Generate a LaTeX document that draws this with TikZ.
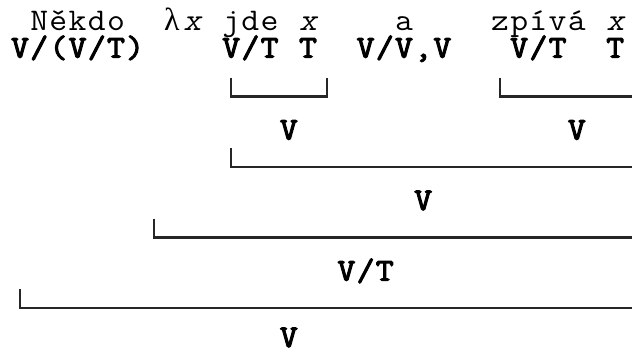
\documentclass[tikz,border=0pt]{standalone}
\usepackage{fontspec}
\newfontfamily\lamfont{Liberation Serif}
% a wide typewriter face in three weights/shapes
\newfontfamily\courrm[FakeStretch=1.1]{Latin Modern Mono}
\newfontfamily\courbf[FakeStretch=1.1,FakeBold=3.4]{Latin Modern Mono}
\newfontfamily\courit[FakeStretch=1.1,FakeSlant=0.22]{Latin Modern Mono}
% set a word on a fixed 19.2pt character grid
\newcommand\cells[1]{\cellsloop#1\relax}
\def\cellsloop#1{\ifx\relax#1\else\makebox[19.2pt]{#1}\expandafter\cellsloop\fi}
\tikzset{
  word/.style={anchor=base, inner sep=0pt, font=\fontsize{31.5}{36}\selectfont\courrm},
  cat/.style={word, font=\fontsize{31.5}{36}\selectfont\courbf},
  var/.style={word, font=\fontsize{31.5}{36}\selectfont\courit},
  lam/.style={word, font=\fontsize{32}{36}\selectfont\lamfont},
  bracket/.style={draw=black!85, line width=2.1pt, line join=miter}
}
\begin{document}
\begin{tikzpicture}[x=1pt, y=-1pt]
  \useasboundingbox (0,0) rectangle (632,354);
  % monospace grid: column k is centred at 20 + 19.2k
  % words
  \node[word] (nekdo) at (77.6,30) {\cells{Někdo}};
  \node[lam]  (lambda) at (172,30) {λ};
  \node[var]  (x1) at (192.3,30) {x};
  \node[word] (jde) at (250.4,30) {\cells{jde}};
  \node[var]  (x2) at (308,30) {x};
  \node[word] (a) at (404,30) {a};
  \node[word] (zpiva) at (538.4,30) {\cells{zpívá}};
  \node[var]  (x3) at (615.2,30) {x};
  % categories
  \node[cat] (c1) at (77.6,57.5) {\cells{V/(V/T)}};
  \node[cat] (c2) at (250.4,57.5) {\cells{V/T}};
  \node[cat] (c3) at (308,57.5) {T};
  \node[cat] (c4) at (404,57.5) {\cells{V/V,V}};
  \node[cat] (c5) at (538.4,57.5) {\cells{V/T}};
  \node[cat] (c6) at (615.2,57.5) {T};
  % first level
  \coordinate (b1l) at (231.2,77.5);
  \coordinate (b1r) at (327.2,77.5);
  \draw[bracket] (b1l) |- (b1r |- 0,96.5) -- (b1r);
  \coordinate (b1bl) at (500,77.5);
  \coordinate (b1be) at (634,96.5);
  \draw[bracket] (b1bl) |- (b1be);
  \node[cat] (r1) at (288.8,139.5) {V};
  \node[cat] (r2) at (576.8,139.5) {V};
  % second level
  \coordinate (b2l) at (231.2,148);
  \coordinate (b2e) at (634,167);
  \draw[bracket] (b2l) |- (b2e);
  \node[cat] (r3) at (423.2,210) {V};
  % lambda abstraction
  \coordinate (b3l) at (154.4,218.5);
  \coordinate (b3e) at (634,237.5);
  \draw[bracket] (b3l) |- (b3e);
  \node[cat] (r4) at (365.6,280.5) {\cells{V/T}};
  % whole sentence
  \coordinate (b4l) at (20,289);
  \coordinate (b4e) at (634,308);
  \draw[bracket] (b4l) |- (b4e);
  \node[cat] (r5) at (288.8,347) {V};
\end{tikzpicture}
\end{document}
